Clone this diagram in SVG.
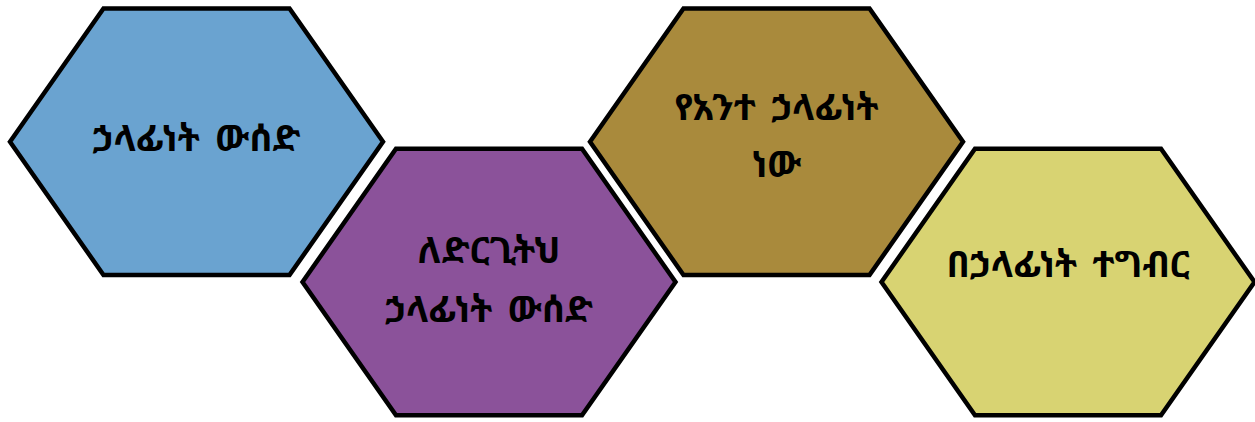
<svg xmlns="http://www.w3.org/2000/svg" width="1255" height="422" viewBox="0 0 1255 422">
<style>
.hex{stroke:#000;stroke-width:4.5;stroke-linejoin:miter}
.t{font-family:"Noto Sans Ethiopic","Abyssinica SIL","Noto Sans","DejaVu Sans",sans-serif;font-size:36px;font-weight:bold;fill:#000;text-anchor:middle;word-spacing:6px}
</style>
<defs>
<polygon id="h" points="-186.5,0 -93,-133.3 93,-133.3 186.5,0 93,133.3 -93,133.3"/>
</defs>
<rect width="1255" height="422" fill="#fff"/>
<g id="node1" transform="translate(196.5,141.7)">
<use href="#h" class="hex" fill="#6AA3D0"/>
<text class="t" x="0" y="9">ኃላፊነት ውሰድ</text>
</g>
<g id="node2" transform="translate(489,282)">
<use href="#h" class="hex" fill="#8B529A"/>
<text class="t" x="0" y="-19">ለድርጊትህ</text>
<text class="t" x="0" y="40">ኃላፊነት ውሰድ</text>
</g>
<g id="node3" transform="translate(776.5,141.7)">
<use href="#h" class="hex" fill="#A98A3C"/>
<text class="t" x="0" y="-22">የአንተ ኃላፊነት</text>
<text class="t" x="0" y="35">ነው</text>
</g>
<g id="node4" transform="translate(1068,282)">
<use href="#h" class="hex" fill="#D8D372"/>
<text class="t" x="0" y="-5">በኃላፊነት ተግብር</text>
</g>
<g id="connectors"></g>
</svg>
